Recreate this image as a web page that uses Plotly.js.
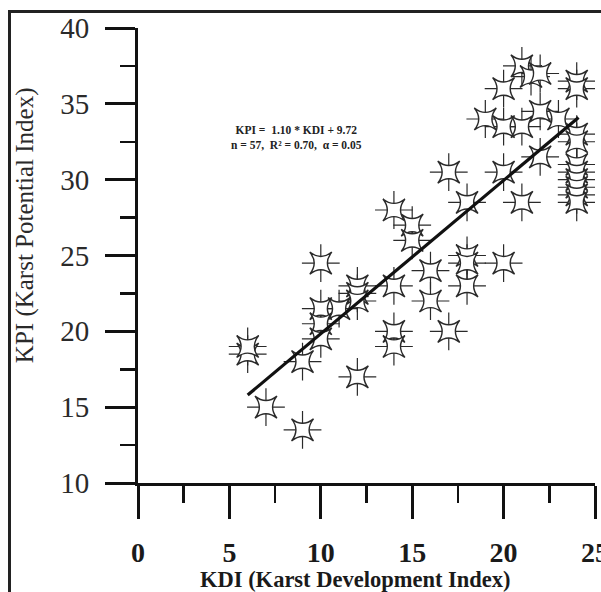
<!DOCTYPE html>
<html><head><meta charset="utf-8">
<script src="https://cdn.plot.ly/plotly-3.0.1.min.js"></script>
<style>
html,body{margin:0;padding:0;background:#fff}
#frame{position:absolute;left:8px;top:10px;width:600px;height:600px;border-left:3px solid #222;border-top:3px solid #222;pointer-events:none}
</style>
</head><body>
<div id="chart" style="width:601px;height:592px"></div>
<div id="frame"></div>
<script>
// KDI (x) and KPI (y)
const kdi = [6, 6, 7, 9, 9, 10, 10, 11, 10, 10, 12, 12, 12, 12, 14, 14, 14, 14, 15, 15, 16, 16, 17, 17,
             18, 18, 18, 18, 19, 20, 20, 20, 20, 21, 21, 21, 21.5, 22, 22, 22, 23,
             24, 24, 24, 24, 24, 24, 24, 24, 24, 24];
const kpi = [18.5, 19, 15, 13.5, 18, 24.5, 21.5, 21.5, 20.5, 19.5, 23, 22.5, 22, 17, 28, 23, 20, 19, 27, 26, 24, 22, 30.5, 20,
             28.5, 25, 24.5, 23, 34, 36, 33.5, 30.5, 24.5, 37.5, 33.5, 28.5, 36.8, 37, 34.5, 31.5, 34,
             36.5, 36, 33, 32.5, 31, 30.5, 30, 29.5, 29, 28.5];
// regression line end points as drawn
const fitX = [6, 24.1];
const fitY = [15.8, 34.1];
const xTickVals = [0, 5, 10, 15, 20, 25];
const yTickVals = [10, 15, 20, 25, 30, 35, 40];
const xTitle = 'KDI (Karst Development Index)';
const yTitle = 'KPI (Karst Potential Index)';
const eqText = 'KPI =  1.10 * KDI + 9.72<br>n = 57,  R² = 0.70,  α = 0.05';

const ink = '#2a2a2a';
const serif = 'Liberation Serif, Times New Roman, serif';

const traces = [
  {x: kdi, y: kpi, mode: 'markers', type: 'scatter', hoverinfo: 'skip',
   marker: {symbol: 'cross-thin-open', size: 27, color: ink, line: {color: ink, width: 1.2}}},
  {x: kdi, y: kpi, mode: 'markers', type: 'scatter',
   marker: {symbol: 'square', size: 20, color: '#ffffff', line: {color: ink, width: 1.4}}},
  {x: fitX, y: fitY, mode: 'lines', type: 'scatter', line: {color: '#111', width: 3.2}}
];

const layout = {
  width: 601, height: 592,
  margin: {l: 138, r: 6, t: 28, b: 109},
  paper_bgcolor: '#fff', plot_bgcolor: '#fff',
  showlegend: false,
  xaxis: {
    range: [0, 25], tickvals: xTickVals, ticktext: xTickVals.map(String),
    showgrid: false, zeroline: false, showline: true, linecolor: '#111', linewidth: 3,
    ticks: 'outside', ticklen: 33, tickwidth: 3, tickcolor: '#111',
    minor: {ticks: 'outside', dtick: 2.5, ticklen: 17, tickwidth: 2.5, tickcolor: '#111', showgrid: false},
    tickfont: {family: serif, size: 28, weight: 'bold', color: '#1a1a1a'},
    ticklabelstandoff: 9, ticklabeloverflow: 'allow'
  },
  yaxis: {
    range: [10, 40], tickvals: yTickVals, ticktext: yTickVals.map(String),
    showgrid: false, zeroline: false, showline: true, linecolor: '#111', linewidth: 3,
    ticks: 'outside', ticklen: 30, tickwidth: 3, tickcolor: '#111',
    minor: {ticks: 'outside', dtick: 2.5, ticklen: 15, tickwidth: 2.5, tickcolor: '#111', showgrid: false},
    tickfont: {family: serif, size: 29, color: '#2a2a2a'},
    ticklabelstandoff: 10
  },
  annotations: [
    {text: xTitle, xref: 'paper', yref: 'paper', x: 0.475, y: -0.213, xanchor: 'center', yanchor: 'middle',
     showarrow: false, font: {family: serif, size: 22.5, weight: 'bold', color: '#1a1a1a'}},
    {text: yTitle, xref: 'paper', yref: 'paper', x: -0.247, y: 0.567, xanchor: 'center', yanchor: 'middle',
     textangle: -90, showarrow: false, font: {family: serif, size: 25, color: '#2a2a2a'}},
    {text: eqText, xref: 'paper', yref: 'paper', x: 0.346, y: 0.76, xanchor: 'center', yanchor: 'middle',
     align: 'center', showarrow: false, font: {family: serif, size: 11.5, weight: 'bold', color: '#222'}}
  ]
};

// four-pointed star glyph (tips on the diagonals, concave sides)
const T = 11, C = 2.2;
const starGlyph = 'M' + T + ',' + T + 'Q0,' + C + ' -' + T + ',' + T +
                  'Q-' + C + ',0 -' + T + ',-' + T +
                  'Q0,-' + C + ' ' + T + ',-' + T +
                  'Q' + C + ',0 ' + T + ',' + T + 'Z';

Plotly.newPlot('chart', traces, layout, {displayModeBar: false, staticPlot: true}).then(function (gd) {
  const layers = gd.querySelectorAll('.scatterlayer .trace');
  if (layers[1]) {
    layers[1].querySelectorAll('path.point').forEach(function (p) { p.setAttribute('d', starGlyph); });
  }
});
</script>
</body></html>
